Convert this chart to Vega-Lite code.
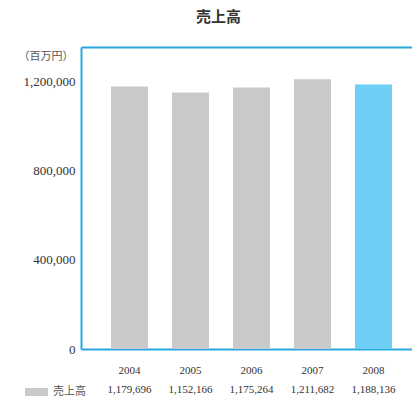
{
  "$schema": "https://vega.github.io/schema/vega-lite/v6.json",
  "autosize": "none",
  "width": 331,
  "height": 302,
  "padding": {"left": 81, "top": 47, "right": 0, "bottom": 49},
  "background": "white",
  "config": {"view": {"stroke": null}},
  "data": {
    "values": [
      {"year": "2004", "sales": 1179696, "series": "売上高"},
      {"year": "2005", "sales": 1152166, "series": "売上高"},
      {"year": "2006", "sales": 1175264, "series": "売上高"},
      {"year": "2007", "sales": 1211682, "series": "売上高"},
      {"year": "2008", "sales": 1188136, "series": "売上高"}
    ]
  },
  "layer": [
    {
      "mark": {"type": "bar"},
      "encoding": {
        "x": {
          "field": "year", "type": "ordinal", "sort": null,
          "scale": {"paddingInner": 0.393, "paddingOuter": 0.41, "align": 0.6},
          "axis": {
            "title": null, "orient": "bottom", "ticks": false,
            "domainColor": "#2aa8e0", "domainWidth": 2,
            "labelAngle": 0, "labelFont": "Liberation Serif", "labelFontSize": 11,
            "labelColor": "#333333", "labelPadding": 15
          }
        },
        "y": {
          "field": "sales", "type": "quantitative",
          "scale": {"domain": [0, 1357000], "nice": false},
          "axis": {
            "values": [0, 400000, 800000, 1200000],
            "format": ",d",
            "grid": false, "ticks": false,
            "domainColor": "#2aa8e0", "domainWidth": 2,
            "labelFont": "Liberation Serif", "labelFontSize": 13, "labelColor": "#333333",
            "labelPadding": 6,
            "title": "（百万円）", "titleAngle": 0, "titleAlign": "right", "titleBaseline": "middle",
            "titleX": -8, "titleY": 9, "titleFont": "Noto Sans CJK JP", "titleFontSize": 11,
            "titleFontWeight": "normal", "titleColor": "#555555"
          }
        },
        "color": {
          "condition": {"test": "datum.year == '2008'", "value": "#6dcff6"},
          "field": "series", "type": "nominal",
          "scale": {"range": ["#c8c9ca"]},
          "legend": {
            "title": null, "orient": "none", "legendX": -52.5, "legendY": 337,
            "padding": 0,
            "symbolType": "M-1.44,-0.5H1.44V0.5H-1.44Z", "symbolSize": 256,
            "symbolStrokeWidth": 0, "symbolOpacity": 1,
            "labelFont": "Noto Sans CJK JP", "labelFontSize": 11, "labelColor": "#555555",
            "labelOffset": 8.5
          }
        }
      }
    },
    {
      "mark": {"type": "bar", "opacity": 0},
      "encoding": {
        "x": {
          "field": "year", "type": "ordinal", "sort": null,
          "scale": {"paddingInner": 0.393, "paddingOuter": 0.41, "align": 0.6},
          "axis": {
            "orient": "top", "ticks": false, "labels": false,
            "domainColor": "#2aa8e0", "domainWidth": 2,
            "title": "売上高", "titleFont": "Noto Sans CJK JP", "titleFontSize": 15,
            "titleFontWeight": "bold", "titleColor": "#333333",
            "titleAngle": 0, "titleAlign": "center", "titleBaseline": "middle",
            "titleX": 137, "titleY": -31
          }
        },
        "y": {"field": "sales", "type": "quantitative"}
      }
    },
    {
      "mark": {"type": "bar", "opacity": 0},
      "encoding": {
        "x": {
          "field": "sales", "type": "ordinal", "sort": null,
          "scale": {"paddingInner": 0.393, "paddingOuter": 0.41, "align": 0.6},
          "axis": {
            "title": null, "orient": "bottom", "ticks": false, "domain": false,
            "labelAngle": 0, "format": ",d", "labelFont": "Liberation Serif", "labelFontSize": 11,
            "labelColor": "#333333", "labelPadding": 34
          }
        },
        "y": {"field": "sales", "type": "quantitative"}
      }
    }
  ],
  "resolve": {"scale": {"x": "independent"}, "axis": {"x": "independent"}}
}
